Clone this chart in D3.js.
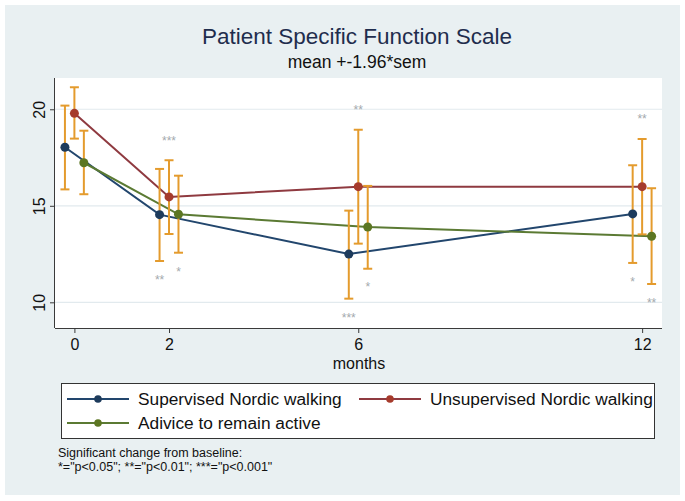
<!DOCTYPE html>
<html>
<head>
<meta charset="utf-8">
<script src="https://cdn.jsdelivr.net/npm/d3@7"></script>
<style>
  body { margin: 0; background: #fff; }
  text { font-family: "Liberation Sans", Arial, sans-serif; }
</style>
</head>
<body>
<div id="chart"></div>
<script>
// data
var months = [0, 2, 6, 12];
var seriesNames = ["Supervised Nordic walking", "Unsupervised Nordic walking", "Adivice to remain active"];

var supMean = [18.03, 14.54, 12.50, 14.58];
var supLo   = [15.85, 12.14, 10.19, 12.04];
var supHi   = [20.19, 16.91, 14.75, 17.10];
var supStars = ["", "**", "***", "*"];
var supStarAt = [null, 11.3, 9.34, 11.19];

var unsMean = [19.79, 15.46, 15.99, 15.99];
var unsLo   = [18.48, 13.54, 13.04, 13.52];
var unsHi   = [21.14, 17.36, 18.94, 18.46];
var unsStars = ["", "***", "**", "**"];
var unsStarAt = [null, 18.5, 20.1, 19.65];

var advMean = [17.23, 14.56, 13.90, 13.42];
var advLo   = [15.60, 12.57, 11.74, 10.95];
var advHi   = [18.89, 16.56, 16.03, 15.91];
var advStars = ["", "*", "*", "**"];
var advStarAt = [null, 11.7, 10.93, 10.1];

var yTicks = [10, 15, 20];

var W = 685, H = 501;
var plot = {left: 55, right: 662, top: 78, bottom: 328};

var lineCols = ["#22466d", "#8f3a40", "#5b7a33"];
var dotCols = ["#1d3b5c", "#a63b2c", "#5c7622"];
var barCol = "#e49b2d";
var shift = [-0.2, 0, 0.2];

var series = [
  {mean: supMean, lo: supLo, hi: supHi, stars: supStars, starAt: supStarAt},
  {mean: unsMean, lo: unsLo, hi: unsHi, stars: unsStars, starAt: unsStarAt},
  {mean: advMean, lo: advLo, hi: advHi, stars: advStars, starAt: advStarAt}
];

var svg = d3.select("#chart").append("svg")
  .attr("width", W).attr("height", H);

svg.append("rect").attr("x", 5).attr("y", 5).attr("width", 675).attr("height", 490)
  .attr("fill", "#e9f0f2");

svg.append("rect")
  .attr("x", plot.left).attr("y", plot.top)
  .attr("width", plot.right - plot.left).attr("height", plot.bottom - plot.top)
  .attr("fill", "#fff");

var x = d3.scaleLinear().domain([-0.41, 12.42]).range([plot.left, plot.right]);
var y = d3.scaleLinear().domain([8.67, 21.62]).range([plot.bottom, plot.top]);

// titles
svg.append("text").attr("x", 357).attr("y", 44).attr("text-anchor", "middle")
  .attr("font-size", "22.5px").attr("fill", "#1f2d4d")
  .text("Patient Specific Function Scale");
svg.append("text").attr("x", 357).attr("y", 68).attr("text-anchor", "middle")
  .attr("font-size", "17.5px").attr("fill", "#111")
  .text("mean +-1.96*sem");

// gridlines
svg.append("g").selectAll("line").data(yTicks).enter().append("line")
  .attr("x1", plot.left).attr("x2", plot.right)
  .attr("y1", function(d) { return y(d); }).attr("y2", function(d) { return y(d); })
  .attr("stroke", "#e2eaee").attr("stroke-width", 1.2);

// axes
var xAxis = svg.append("g")
  .attr("transform", "translate(0," + plot.bottom + ")")
  .call(d3.axisBottom(x).tickValues(months).tickSize(5).tickPadding(6).tickFormat(d3.format("d")));
xAxis.select(".domain").attr("stroke", "#3a3a3a").attr("d", "M" + plot.left + ",0.5H" + plot.right);
xAxis.selectAll(".tick line").attr("stroke", "#3a3a3a");
xAxis.selectAll(".tick text").attr("font-size", "16px").attr("fill", "#111")
  .attr("font-family", "Liberation Sans, Arial, sans-serif");

var yAxis = svg.append("g")
  .attr("transform", "translate(" + plot.left + ",0)")
  .call(d3.axisLeft(y).tickValues(yTicks).tickSize(5).tickFormat(d3.format("d")));
yAxis.select(".domain").attr("stroke", "#3a3a3a").attr("d", "M-0.5," + plot.top + "V" + plot.bottom);
yAxis.selectAll(".tick line").attr("stroke", "#3a3a3a");
yAxis.selectAll(".tick text")
  .attr("font-size", "16px").attr("fill", "#111")
  .attr("font-family", "Liberation Sans, Arial, sans-serif")
  .attr("x", null).attr("dy", null)
  .attr("text-anchor", "middle")
  .attr("transform", "translate(-10,0) rotate(-90)");

svg.append("text").attr("x", 359).attr("y", 369).attr("text-anchor", "middle")
  .attr("font-size", "16px").attr("fill", "#111").text("months");

// connecting lines
series.forEach(function(s, i) {
  var line = d3.line()
    .x(function(d, j) { return x(months[j] + shift[i]); })
    .y(function(d) { return y(d); });
  svg.append("path").datum(s.mean)
    .attr("d", line).attr("fill", "none")
    .attr("stroke", lineCols[i]).attr("stroke-width", 2);
});

// error bars
series.forEach(function(s, i) {
  var g = svg.append("g").attr("stroke", barCol).attr("stroke-width", 2);
  months.forEach(function(m, j) {
    var cx = x(m + shift[i]);
    g.append("line").attr("x1", cx).attr("x2", cx).attr("y1", y(s.lo[j])).attr("y2", y(s.hi[j]));
    g.append("line").attr("x1", cx - 4.5).attr("x2", cx + 4.5).attr("y1", y(s.lo[j])).attr("y2", y(s.lo[j]));
    g.append("line").attr("x1", cx - 4.5).attr("x2", cx + 4.5).attr("y1", y(s.hi[j])).attr("y2", y(s.hi[j]));
  });
});

// markers
series.forEach(function(s, i) {
  svg.append("g").selectAll("circle").data(s.mean).enter().append("circle")
    .attr("cx", function(d, j) { return x(months[j] + shift[i]); })
    .attr("cy", function(d) { return y(d); })
    .attr("r", 4.5).attr("fill", dotCols[i]);
});

// significance stars
series.forEach(function(s, i) {
  months.forEach(function(m, j) {
    if (!s.stars[j]) return;
    svg.append("text")
      .attr("x", x(m + shift[i])).attr("y", y(s.starAt[j]) + 6.5)
      .attr("text-anchor", "middle").attr("font-size", "12px").attr("fill", "#a3a9ad")
      .text(s.stars[j]);
  });
});

// legend
svg.append("rect").attr("x", 61.5).attr("y", 383.5).attr("width", 593).attr("height", 55)
  .attr("fill", "#fff").attr("stroke", "#333").attr("stroke-width", 1);

var legendPos = [{x: 67, y: 399}, {x: 359, y: 399}, {x: 67, y: 423}];
legendPos.forEach(function(p, i) {
  var g = svg.append("g").attr("transform", "translate(" + p.x + "," + p.y + ")");
  g.append("line").attr("x1", 0).attr("x2", 62).attr("y1", 0).attr("y2", 0)
    .attr("stroke", lineCols[i]).attr("stroke-width", 2);
  g.append("circle").attr("cx", 31).attr("cy", 0).attr("r", 3.8).attr("fill", dotCols[i]);
  g.append("text").attr("x", 71).attr("y", 6).attr("font-size", "17.3px").attr("fill", "#111")
    .text(seriesNames[i]);
});

// note
var note = svg.append("text").attr("font-size", "12.5px").attr("fill", "#111");
note.append("tspan").attr("x", 58).attr("y", 457).text("Significant change from baseline:");
note.append("tspan").attr("x", 58).attr("y", 471).text('*="p<0.05"; **="p<0.01"; ***="p<0.001"');
</script>
</body>
</html>
